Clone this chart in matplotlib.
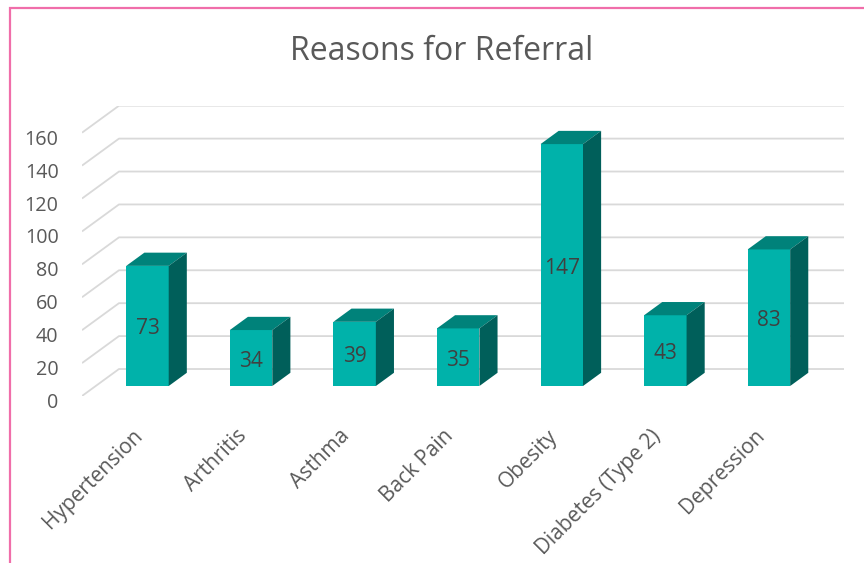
import matplotlib
matplotlib.use("Agg")
import matplotlib.pyplot as plt
from matplotlib.patches import Polygon, Rectangle
from matplotlib.transforms import ScaledTranslation
import numpy as np

categories = ["Hypertension", "Arthritis", "Asthma", "Back Pain", "Obesity",
              "Diabetes (Type 2)", "Depression"]
values = [73, 34, 39, 35, 147, 43, 83]
yticks = [0, 20, 40, 60, 80, 100, 120, 140, 160]
title = "Reasons for Referral"

plt.rcParams['font.family'] = ['Open Sans', 'DejaVu Sans']

W, H = 864, 563
fig = plt.figure(figsize=(W / 100, H / 100), dpi=100)

# front-plane axes: x in category units, y in value units
left_px, right_px = 82, 844
bot_px, top_px = 396, 105.7
ax = fig.add_axes([left_px / W, 1 - bot_px / H, (right_px - left_px) / W, (bot_px - top_px) / H])

n = len(categories)
DX = 0.357   # full depth offset in category units
DY = 16.4    # full depth offset in value units
ymax = 160
ax.set_xlim(-0.5, n - 0.5 + DX)
ax.set_ylim(0, ymax + DY)
ax.axis('off')

grid_c = '#d9d9d9'
for v in yticks:
    ax.plot([-0.5, -0.5 + DX, n - 0.5 + DX], [v, v + DY, v + DY],
            color=grid_c, lw=1.3, solid_capstyle='butt', zorder=1)
    ax.text(-0.5, v, str(v), ha='right', va='center', fontsize=14.2, color='#595959',
            transform=ax.transData + ScaledTranslation(-0.235, -0.07, fig.dpi_scale_trans))

front_c = '#00B2AA'
top_c = '#00827A'
side_c = '#005F5A'
w = 0.41
z0, z1 = 0.37, 0.86
for i, v in enumerate(values):
    x0 = i - w / 2 + z0 * DX
    x1 = x0 + w
    y0 = z0 * DY
    y1 = y0 + v
    ddx = (z1 - z0) * DX
    ddy = (z1 - z0) * DY
    ax.add_patch(Polygon([(x0, y0), (x1, y0), (x1, y1), (x0, y1)], closed=True,
                         facecolor=front_c, edgecolor='none', zorder=3))
    ax.add_patch(Polygon([(x0, y1), (x1, y1), (x1 + ddx, y1 + ddy), (x0 + ddx, y1 + ddy)],
                         closed=True, facecolor=top_c, edgecolor='none', zorder=3))
    ax.add_patch(Polygon([(x1, y0), (x1 + ddx, y0 + ddy), (x1 + ddx, y1 + ddy), (x1, y1)],
                         closed=True, facecolor=side_c, edgecolor='none', zorder=3))
    ax.text((x0 + x1) / 2, (y0 + y1) / 2, str(v), ha='center', va='center',
            fontsize=15, color='#404040', zorder=4,
            transform=ax.transData + ScaledTranslation(0, -0.03, fig.dpi_scale_trans))
    ax.text(i, 0, categories[i], rotation=45, rotation_mode='anchor', ha='right', va='center',
            fontsize=15, color='#595959',
            transform=ax.transData + ScaledTranslation(0.06, -0.37, fig.dpi_scale_trans))

fig.text(442 / W, 1 - 52 / H, title, ha='center', va='center', fontsize=23, color='#595959')

# pink outer border (top and left visible)
fig.patches.append(Rectangle((9.5 / W, -0.1), 2, 1 - 8.3 / H + 0.1, transform=fig.transFigure,
                             fill=False, edgecolor='#F06EAA', lw=1.6, figure=fig))

fig.savefig('out.png', dpi=100, facecolor='white')
